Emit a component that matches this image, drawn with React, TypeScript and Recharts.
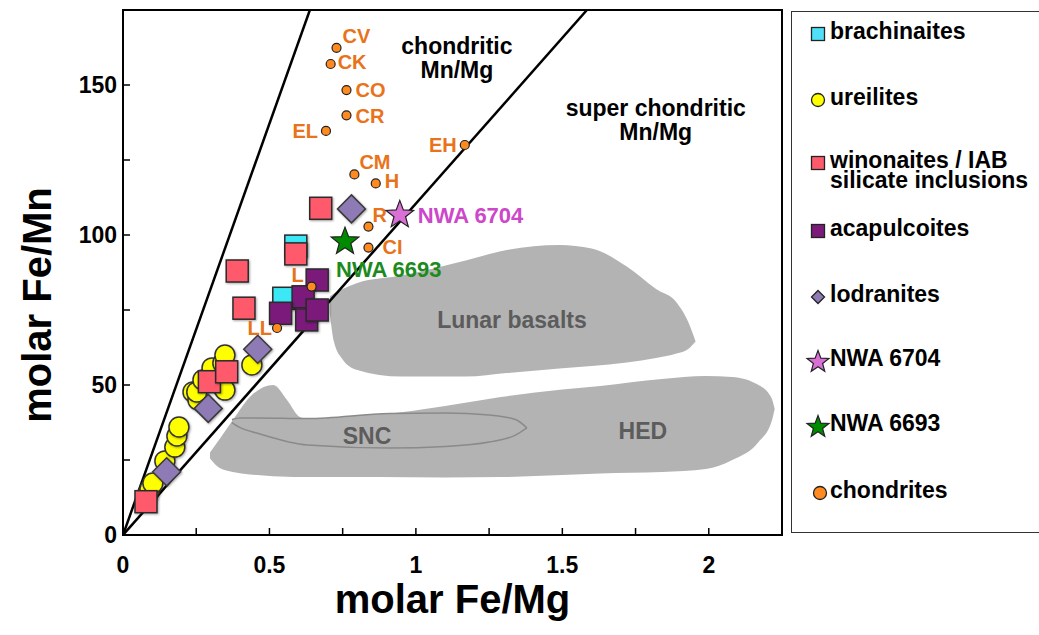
import React from 'react';
import { ComposedChart, XAxis, YAxis, Scatter, Area, ReferenceArea } from 'recharts';

const FONT = '"Liberation Sans", Arial, Helvetica, sans-serif';

// axis ticks (labels only on every second tick)
const xTicks = [0, 0.25, 0.5, 0.75, 1, 1.25, 1.5, 1.75, 2, 2.25];
const yTicks = [0, 25, 50, 75, 100, 125, 150, 175];

// boundary lines of chondritic Mn/Mg
const chondriticUpper = [{ x: 0, y: 0 }, { x: 0.638, y: 175 }];
const chondriticLower = [{ x: 0, y: 0 }, { x: 1.584, y: 175 }];

// grey fields, [low, high] Fe/Mn at each Fe/Mg
const lunarField = [
  { x: 0.706, v: [74, 79.5] },
  { x: 0.72, v: [64.5, 80.5] },
  { x: 0.75, v: [58.5, 82] },
  { x: 0.8, v: [55, 84] },
  { x: 0.95, v: [52.8, 86.5] },
  { x: 1.17, v: [52.8, 91.5] },
  { x: 1.31, v: [54, 95] },
  { x: 1.49, v: [55.5, 96.7] },
  { x: 1.6, v: [56.3, 95.5] },
  { x: 1.72, v: [57.5, 89.5] },
  { x: 1.82, v: [59, 82] },
  { x: 1.89, v: [60.5, 77.5] },
  { x: 1.93, v: [62, 71] },
  { x: 1.955, v: [64.5, 64.5] },
];

const hedField = [
  { x: 0.297, v: [25.5, 27.5] },
  { x: 0.33, v: [22.3, 32] },
  { x: 0.375, v: [21, 38.3] },
  { x: 0.433, v: [20.2, 46] },
  { x: 0.513, v: [19.6, 50] },
  { x: 0.56, v: [19.4, 45] },
  { x: 0.604, v: [19.3, 39.3] },
  { x: 0.64, v: [19.3, 38.5] },
  { x: 0.87, v: [19.3, 40] },
  { x: 1.1, v: [19.2, 43] },
  { x: 1.29, v: [19.3, 46] },
  { x: 1.5, v: [20, 48.5] },
  { x: 1.63, v: [20.5, 49.7] },
  { x: 1.84, v: [21, 52] },
  { x: 1.99, v: [22, 53] },
  { x: 2.08, v: [25, 52.7] },
  { x: 2.17, v: [31, 50] },
  { x: 2.215, v: [38, 45.5] },
  { x: 2.225, v: [42, 42] },
];

const sncField = [
  { x: 0.372, v: [37.5, 38.5] },
  { x: 0.4, v: [35.8, 39] },
  { x: 0.457, v: [34, 39] },
  { x: 0.63, v: [30, 38.8] },
  { x: 0.91, v: [29, 40.5] },
  { x: 1.1, v: [29.5, 40.7] },
  { x: 1.25, v: [31, 40] },
  { x: 1.34, v: [33.3, 38.5] },
  { x: 1.379, v: [35.7, 35.7] },
];

// meteorite groups
const brachinaites = [
  { x: 0.59, y: 96.3 },
  { x: 0.549, y: 78.9 },
];

const ureilites = [
  { x: 0.082, y: 13.3 },
  { x: 0.092, y: 15.3 },
  { x: 0.102, y: 17.3 },
  { x: 0.143, y: 24.7 },
  { x: 0.177, y: 29.3 },
  { x: 0.184, y: 33 },
  { x: 0.191, y: 36 },
  { x: 0.239, y: 47.7 },
  { x: 0.256, y: 45 },
  { x: 0.252, y: 47.7 },
  { x: 0.273, y: 51.7 },
  { x: 0.304, y: 55.7 },
  { x: 0.331, y: 51.7 },
  { x: 0.341, y: 57.3 },
  { x: 0.348, y: 60 },
  { x: 0.341, y: 49.3 },
  { x: 0.348, y: 48.3 },
  { x: 0.44, y: 56.7 },
];

const winonaites = [
  { x: 0.0785, y: 11.1 },
  { x: 0.295, y: 51.1 },
  { x: 0.354, y: 54.4 },
  { x: 0.39, y: 88 },
  { x: 0.413, y: 75.6 },
  { x: 0.59, y: 93.7 },
  { x: 0.675, y: 108.9 },
];

const acapulcoites = [
  { x: 0.663, y: 85 },
  { x: 0.615, y: 79.4 },
  { x: 0.538, y: 73.9 },
  { x: 0.627, y: 71.7 },
  { x: 0.663, y: 75 },
];

const lodranites = [
  { x: 0.149, y: 21.1 },
  { x: 0.291, y: 42.2 },
  { x: 0.46, y: 61.9 },
  { x: 0.78, y: 108.7 },
];

const nwa6704 = [{ x: 0.945, y: 106.7, name: 'NWA 6704' }];
const nwa6693 = [{ x: 0.758, y: 97.8, name: 'NWA 6693' }];

const chondrites = [
  { name: 'CV', x: 0.729, y: 162.4 },
  { name: 'CK', x: 0.709, y: 157 },
  { name: 'CO', x: 0.763, y: 148.3 },
  { name: 'CR', x: 0.763, y: 139.9 },
  { name: 'EL', x: 0.693, y: 134.7 },
  { name: 'EH', x: 1.167, y: 130 },
  { name: 'CM', x: 0.79, y: 120.2 },
  { name: 'H', x: 0.863, y: 117.2 },
  { name: 'R', x: 0.838, y: 102.8 },
  { name: 'CI', x: 0.838, y: 95.8 },
  { name: 'L', x: 0.644, y: 82.8 },
  { name: 'LL', x: 0.526, y: 69 },
];

// text in the plot
const fieldNotes = [
  { text: 'chondritic\nMn/Mg', x: 1.14, y: 159.2, tone: 'dark' },
  { text: 'super chondritic\nMn/Mg', x: 1.819, y: 138.5, tone: 'dark' },
  { text: 'Lunar basalts', x: 1.328, y: 71.7, tone: 'grey' },
  { text: 'SNC', x: 0.833, y: 33, tone: 'grey' },
  { text: 'HED', x: 1.775, y: 34.7, tone: 'grey' },
];

const legendItems = [
  { label: 'brachinaites', marker: 'square', color: '#4fe0f7', top: 22 },
  { label: 'ureilites', marker: 'circle', color: '#ffff00', top: 88 },
  { label: 'winonaites / IAB\nsilicate inclusions', marker: 'square', color: '#ff5a6b', top: 151 },
  { label: 'acapulcoites', marker: 'square', color: '#7b1a7b', top: 219 },
  { label: 'lodranites', marker: 'diamond', color: '#8e7ab5', top: 285 },
  { label: 'NWA 6704', marker: 'star', color: '#da6fd6', top: 349 },
  { label: 'NWA 6693', marker: 'star', color: '#008a00', top: 414 },
  { label: 'chondrites', marker: 'dot', color: '#ff8a1f', top: 481 },
];

// label offsets next to each chondrite dot (px)
const chondriteLabelPlace: Record<string, [number, number, string]> = {
  CV: [6, -12, 'start'],
  CK: [7, -2, 'start'],
  CO: [9, 0, 'start'],
  CR: [9, 0, 'start'],
  EL: [-8, 0, 'end'],
  EH: [-8, 0, 'end'],
  CM: [5, -13, 'start'],
  H: [9, -3, 'start'],
  R: [4, -12, 'start'],
  CI: [14, -1, 'start'],
  L: [-14, -12, 'middle'],
  LL: [-5, 0, 'end'],
};

const shadow = { filter: 'drop-shadow(1px 1.5px 1px rgba(0,0,0,0.35))' };

const starPath = (cx: number, cy: number, R: number) => {
  const r = R * 0.42;
  let d = '';
  for (let i = 0; i < 10; i++) {
    const rad = i % 2 === 0 ? R : r;
    const a = -Math.PI / 2 + (i * Math.PI) / 5;
    d += (i === 0 ? 'M' : 'L') + (cx + rad * Math.cos(a)).toFixed(2) + ',' + (cy + rad * Math.sin(a)).toFixed(2);
  }
  return d + 'Z';
};

const squareShape = (fill: string) => (p: any) => (
  <rect x={p.cx - 11} y={p.cy - 11} width={22} height={22} fill={fill} stroke="#2b2b2b" strokeWidth={1.5} style={shadow} />
);

const circleShape = (p: any) => (
  <circle cx={p.cx} cy={p.cy} r={10} fill="#ffff00" stroke="#333" strokeWidth={1.5} style={shadow} />
);

const diamondShape = (p: any) => (
  <path
    d={`M${p.cx},${p.cy - 14}L${p.cx + 14},${p.cy}L${p.cx},${p.cy + 14}L${p.cx - 14},${p.cy}Z`}
    fill="#8e7ab5"
    stroke="#3a3a3a"
    strokeWidth={1.5}
    style={shadow}
  />
);

const starShape = (fill: string, textColor: string, dx: number, dy: number) => (p: any) => {
  const name = (p.payload && p.payload.name) || p.name;
  return (
    <g>
      <path d={starPath(p.cx, p.cy, 14.5)} fill={fill} stroke="#222" strokeWidth={1.2} />
      <text x={p.cx + dx} y={p.cy + dy} dy="0.36em" fontFamily={FONT} fontWeight="bold" fontSize={22} fill={textColor}>
        {name}
      </text>
    </g>
  );
};

const chondriteShape = (p: any) => {
  const name = (p.payload && p.payload.name) || p.name;
  const [dx, dy, anchor] = chondriteLabelPlace[name] || [8, 0, 'start'];
  return (
    <g>
      <circle cx={p.cx} cy={p.cy} r={4.5} fill="#ff8a1f" stroke="#222" strokeWidth={1.2} />
      <text
        x={p.cx + dx}
        y={p.cy + dy}
        dy="0.36em"
        textAnchor={anchor as any}
        fontFamily={FONT}
        fontWeight="bold"
        fontSize={20}
        fill="#e8731a"
      >
        {name}
      </text>
    </g>
  );
};

const noteShape = (p: any) => {
  const d = p.payload || p;
  const lines = String(d.text).split('\n');
  const lh = 24;
  const y0 = p.cy - ((lines.length - 1) * lh) / 2;
  return (
    <text textAnchor="middle" fontFamily={FONT} fontWeight="bold" fontSize={23} fill={d.tone === 'grey' ? '#5c5c5c' : '#000'}>
      {lines.map((l: string, i: number) => (
        <tspan key={i} x={p.cx} y={y0 + i * lh} dy="0.36em">
          {l}
        </tspan>
      ))}
    </text>
  );
};

const XTitle = (props: any) => {
  const vb = props.viewBox || {};
  return (
    <text x={vb.x + vb.width / 2} y={613} textAnchor="middle" fontFamily={FONT} fontWeight="bold" fontSize={40} fill="#000">
      molar Fe/Mg
    </text>
  );
};

const YTitle = () => {
  return (
    <text
      x={51}
      y={305}
      transform="rotate(-90 51 305)"
      textAnchor="middle"
      fontFamily={FONT}
      fontWeight="bold"
      fontSize={40}
      fill="#000"
    >
      molar Fe/Mn
    </text>
  );
};

const LegendMarker = ({ marker, color }: { marker: string; color: string }) => {
  return (
    <svg width={26} height={26} style={{ position: 'absolute', left: 13, top: -13, overflow: 'visible' }}>
      {marker === 'square' && <rect x={6.5} y={6.5} width={13} height={13} fill={color} stroke="#222" strokeWidth={1.3} />}
      {marker === 'circle' && <circle cx={13} cy={13} r={6.5} fill={color} stroke="#222" strokeWidth={1.3} />}
      {marker === 'dot' && <circle cx={15} cy={13} r={6.5} fill={color} stroke="#222" strokeWidth={1.3} />}
      {marker === 'diamond' && <path d="M13,6.5L19.5,13L13,19.5L6.5,13Z" fill={color} stroke="#222" strokeWidth={1.3} />}
      {marker === 'star' && <path d={starPath(13, 14, 11.5)} fill={color} stroke="#222" strokeWidth={1.2} />}
    </svg>
  );
};

const ChartLegend = () => (
  <div
    style={{
      position: 'absolute',
      left: 791,
      top: 11,
      width: 248,
      height: 522,
      boxSizing: 'border-box',
      borderTop: '1.5px solid #333',
      borderLeft: '1.5px solid #333',
      borderBottom: '1.5px solid #333',
      fontFamily: FONT,
      fontWeight: 'bold',
      fontSize: 23,
      color: '#000',
    }}
  >
    {legendItems.map((it) => (
      <div key={it.label} style={{ position: 'absolute', left: 0, top: it.top, width: 248 }}>
        <LegendMarker marker={it.marker} color={it.color} />
        <div style={{ position: 'absolute', left: 38, top: -13, lineHeight: '20px', whiteSpace: 'pre' }}>{it.label}</div>
      </div>
    ))}
  </div>
);

const tickStyle = { fill: '#000', fontSize: 23, fontWeight: 'bold', fontFamily: FONT };

export default function App() {
  return (
    <div style={{ position: 'absolute', left: 0, top: 0, width: 1039, height: 635, background: '#fff', overflow: 'hidden' }}>
      <ComposedChart width={1039} height={635} margin={{ top: 10, right: 257, bottom: 0, left: 0 }}>
        <XAxis
          type="number"
          dataKey="x"
          domain={[0, 2.25]}
          ticks={xTicks}
          allowDataOverflow
          height={100}
          tickSize={-7}
          tickMargin={29}
          tick={tickStyle}
          tickLine={{ stroke: '#000', strokeWidth: 1.5 }}
          axisLine={{ stroke: '#000', strokeWidth: 2 }}
          tickFormatter={(v: number) => ((v * 2) % 1 === 0 ? String(v) : '')}
          label={<XTitle />}
        />
        <YAxis
          type="number"
          dataKey="y"
          domain={[0, 175]}
          ticks={yTicks}
          allowDataOverflow
          width={123}
          tickSize={-7}
          tickMargin={13}
          tick={tickStyle}
          tickLine={{ stroke: '#000', strokeWidth: 1.5 }}
          axisLine={{ stroke: '#000', strokeWidth: 2 }}
          tickFormatter={(v: number) => (v % 50 === 0 && v < 175 ? String(v) : '')}
          label={<YTitle />}
        />
        <Area data={lunarField} dataKey="v" type="monotone" fill="#b3b3b3" fillOpacity={1} stroke="none" isAnimationActive={false} dot={false} activeDot={false} />
        <Area data={hedField} dataKey="v" type="monotone" fill="#b3b3b3" fillOpacity={1} stroke="none" isAnimationActive={false} dot={false} activeDot={false} />
        <Area data={sncField} dataKey="v" type="monotone" fill="#b3b3b3" fillOpacity={1} stroke="#8a8a8a" strokeWidth={1.5} isAnimationActive={false} dot={false} activeDot={false} />
        <Scatter data={fieldNotes} shape={noteShape} isAnimationActive={false} />
        <Scatter data={chondriticUpper} line={{ stroke: '#000', strokeWidth: 2.5 }} shape={() => <g />} isAnimationActive={false} />
        <Scatter data={chondriticLower} line={{ stroke: '#000', strokeWidth: 2.5 }} shape={() => <g />} isAnimationActive={false} />
        <Scatter data={brachinaites} shape={squareShape('#3ce8f5')} isAnimationActive={false} />
        <Scatter data={ureilites} shape={circleShape} isAnimationActive={false} />
        <Scatter data={winonaites} shape={squareShape('#ff5a6b')} isAnimationActive={false} />
        <Scatter data={acapulcoites} shape={squareShape('#7b1a7b')} isAnimationActive={false} />
        <Scatter data={lodranites} shape={diamondShape} isAnimationActive={false} />
        <Scatter data={chondrites} shape={chondriteShape} isAnimationActive={false} />
        <Scatter data={nwa6704} shape={starShape('#da6fd6', '#cc47c9', 18, 0)} isAnimationActive={false} />
        <Scatter data={nwa6693} shape={starShape('#008a00', '#1c8a1c', -9, 27)} isAnimationActive={false} />
        <ReferenceArea x1={0} x2={2.25} y1={0} y2={175} fill="none" fillOpacity={0} stroke="#000" strokeWidth={2} ifOverflow="visible" />
      </ComposedChart>
      <ChartLegend />
    </div>
  );
}
